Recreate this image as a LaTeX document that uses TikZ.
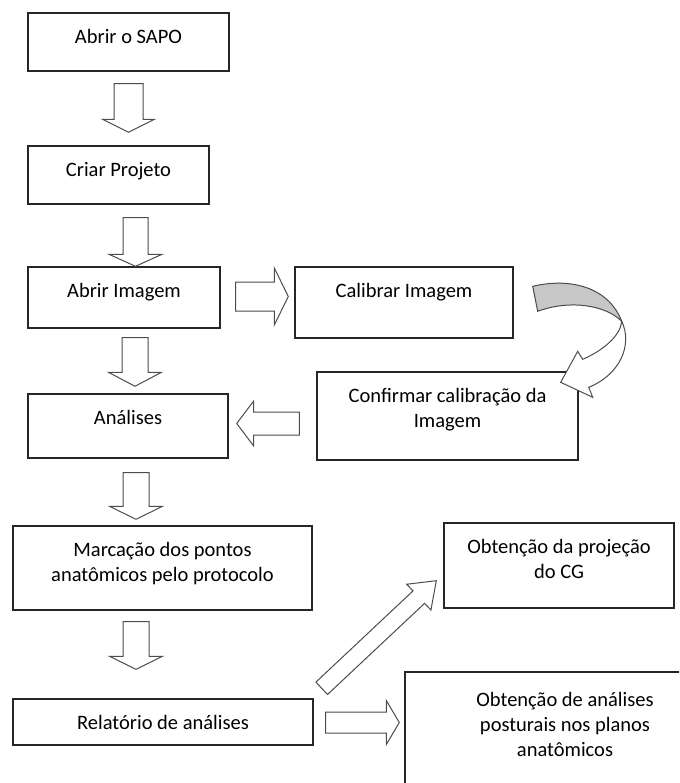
\documentclass[tikz,border=0pt]{standalone}
\usepackage{fontspec}
\setmainfont{Carlito}
\usetikzlibrary{calc}
\tikzset{
  box/.style={draw=black!85, line width=1.4pt, fill=white, inner sep=0pt},
  lbl/.style={anchor=north, yshift=-16.5pt, inner sep=0pt, align=center, text=black, font=\fontsize{20.5}{25}\selectfont},
  barrow/.style={draw=black!70, line width=1pt, fill=white, line join=miter}
}
\newcommand{\blockarrow}[5]{%
  \path #1 coordinate (ba) #2 coordinate (bb);
  \path ($(bb)!#5!(ba)$) coordinate (bn);
  \draw[barrow] ($(ba)!#3!90:(bb)$) -- ($(bn)!#3!90:(bb)$) -- ($(bn)!#4!90:(bb)$) -- (bb)
    -- ($(bn)!#4!-90:(bb)$) -- ($(bn)!#3!-90:(bb)$) -- ($(ba)!#3!-90:(bb)$) -- cycle;}
\begin{document}
\begin{tikzpicture}[x=1pt, y=-1pt]
\useasboundingbox (0,0) rectangle (679,783);
\clip (0,0) rectangle (679,783);
\node[box, minimum width=201pt, minimum height=58pt, label={[lbl]north:Abrir o SAPO}] (open) at (128.5,42){};
\node[box, minimum width=181pt, minimum height=58pt, label={[lbl]north:Criar Projeto}] (proj) at (118.5,175){};
\node[box, minimum width=192pt, minimum height=61pt, label={[lbl]north:Abrir Imagem}] (img) at (124,297.5){};
\node[box, minimum width=218pt, minimum height=71pt, label={[lbl]north:Calibrar Imagem}] (calib) at (404,302.5){};
\node[box, minimum width=261pt, minimum height=88pt, label={[lbl]north:Confirmar calibração da\\Imagem}] (conf) at (447.5,416){};
\node[box, minimum width=200pt, minimum height=64pt, label={[lbl]north:Análises}] (anal) at (128,426){};
\node[box, minimum width=299pt, minimum height=84pt, label={[lbl]north:Marcação dos pontos\\anatômicos pelo protocolo}] (marc) at (162.5,568){};
\node[box, minimum width=230pt, minimum height=85pt, label={[lbl]north:Obtenção da projeção\\do CG}] (cg) at (559,565.5){};
\node[box, minimum width=300pt, minimum height=46pt, label={[lbl]north:Relatório de análises}] (rel) at (163,722){};
\node[box, minimum width=320pt, minimum height=160pt, label={[lbl, yshift=-4pt]north:Obtenção de análises\\posturais nos planos\\anatômicos}] (post) at (565,752){};
\blockarrow{($(open.south)+(0,12)$)}{($(proj.north)+(10,-13)$)}{14.5pt}{26pt}{13pt}
\blockarrow{($(proj.south)+(17,13)$)}{($(img.north)+(11.5,0)$)}{12.5pt}{26.5pt}{12pt}
\blockarrow{($(img.south)+(11,9)$)}{($(anal.north)+(7,-7)$)}{13pt}{26.5pt}{14pt}
\blockarrow{($(anal.south)+(8,14)$)}{($(marc.north)+(-26.5,-6)$)}{13pt}{26.5pt}{13pt}
\blockarrow{($(marc.south)+(-26.5,11)$)}{($(rel.north)+(-27,-29)$)}{13pt}{26.5pt}{13pt}
\blockarrow{($(img.east)+(15,-1)$)}{($(calib.west)+(-6,-6)$)}{14.5pt}{28.5pt}{14pt}
\blockarrow{($(conf.west)+(-17,7.5)$)}{($(anal.east)+(8,-2.5)$)}{11.5pt}{22.5pt}{17pt}
\blockarrow{($(rel.north east)+(8,-10)$)}{($(cg.south west)+(-7,-28)$)}{8.5pt}{17.7pt}{24pt}
\blockarrow{($(rel.east)+(12,0.5)$)}{($(post.west)+(-5,-29.5)$)}{10.5pt}{22pt}{13pt}
\begin{scope}[shift={(calib.north east)}]
\draw[barrow, fill=black!22] (19,20) .. controls (57,11) and (95,21) .. (108,55)
  .. controls (92,39) and (57,33) .. (24,45) -- cycle;
\draw[barrow] (108,55) .. controls (119,78) and (107,108) .. (75,121) -- (79,131) -- (47,116)
  -- (64,85) -- (69,93) .. controls (92,83) and (107,68) .. (108,55) -- cycle;
\end{scope}
\end{tikzpicture}
\end{document}
